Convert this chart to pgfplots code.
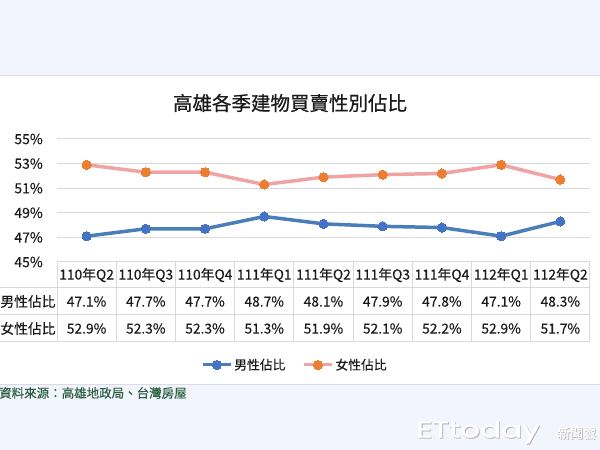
\documentclass[border=0pt]{standalone}
\usepackage{pgfplots}
\pgfplotsset{compat=1.18}
\usepackage{fontspec}
\setmainfont{Noto Sans CJK TC}[FakeBold=0.25]
\newfontfamily\titlefont[FakeBold=0.6]{Noto Sans CJK TC}
\newfontfamily\wmfont[FakeBold=1.5]{Poppins}
\newfontfamily\wmcjk[FakeBold=1]{Noto Sans CJK TC}
\definecolor{bandbg}{HTML}{F2F5FD}
\definecolor{bandline}{HTML}{D9DCE2}
\definecolor{gridc}{HTML}{D9D9D9}
\definecolor{maleline}{HTML}{4A7EBB}
\definecolor{malemark}{HTML}{4472C4}
\definecolor{femline}{HTML}{F0A3A3}
\definecolor{femmark}{HTML}{ED7D31}
\definecolor{srcc}{HTML}{2B5E3E}
\definecolor{txt}{HTML}{1A1A1A}
\begin{document}
\begin{tikzpicture}[x=1pt,y=1pt]
\path[use as bounding box] (0,0) rectangle (600,450);
\fill[white] (0,0) rectangle (600,450);
\fill[bandbg] (0,375) rectangle (600,450);
\draw[bandline, line width=1.2pt] (0,374.6) -- (600,374.6);
\fill[bandbg] (0,0) rectangle (600,65);
\draw[bandline, line width=0.8pt] (0,65.2) -- (600,65.2);
% title
\node[font=\titlefont\fontsize{19.5}{22}\selectfont, text=txt] at (290,347) {高雄各季建物買賣性別佔比};
% table grid
\begin{scope}[gridc, line width=1pt]
\draw (0,162) -- (590,162);
\draw (0,135) -- (590,135);
\draw (0,108) -- (590,108);
\foreach \i in {0,...,9} { \draw ({57+59.22*\i},188) -- ({57+59.22*\i},108); }
\end{scope}
\begin{axis}[
  at={(57pt,188pt)}, anchor=south west,
  scale only axis, width=533pt, height=123pt,
  xmin=-0.5, xmax=8.5, ymin=45, ymax=55,
  ytick={45,47,...,55},
  yticklabel={\pgfmathprintnumber{\tick}\%},
  /pgf/number format/assume math mode=true,
  yticklabel style={font=\fontsize{14}{16}\selectfont, text=txt, inner sep=0pt, anchor=east},
  yticklabel shift=14pt,
  xtick={0,...,8},
  xticklabels={110年Q2,110年Q3,110年Q4,111年Q1,111年Q2,111年Q3,111年Q4,112年Q1,112年Q2},
  xticklabel style={font=\fontsize{13.8}{16}\selectfont, text=txt, inner sep=0pt, anchor=center, yshift=-13pt},
  xticklabel shift=0pt,
  ymajorgrids, major grid style={gridc, line width=1pt},
  axis line style={draw=none}, tick style={draw=none},
  clip=false,
  legend style={at={(axis description cs:0.4465,-0.837)}, anchor=center, draw=none, fill=none,
     legend columns=2, font=\fontsize{12.8}{15}\selectfont, text=txt,
     /tikz/every even column/.append style={column sep=15pt}},
  legend image code/.code={\draw[mark repeat=2,mark phase=2,#1, line width=3pt] plot coordinates {(0pt,0pt) (14pt,0pt) (28pt,0pt)};},
]
\addplot[maleline, line width=3.5pt, mark=*, mark size=4.6pt, mark options={fill=malemark, draw=malemark, line width=0pt}]
  coordinates {(0,47.1) (1,47.7) (2,47.7) (3,48.7) (4,48.1) (5,47.9) (6,47.8) (7,47.1) (8,48.3)};
\addlegendentry{男性佔比}
\addplot[femline, line width=3.5pt, mark=*, mark size=4.6pt, mark options={fill=femmark, draw=femmark, line width=0pt}]
  coordinates {(0,52.9) (1,52.3) (2,52.3) (3,51.3) (4,51.9) (5,52.1) (6,52.2) (7,52.9) (8,51.7)};
\addlegendentry{女性佔比}
\end{axis}
% table rows
\begin{scope}[every node/.style={font=\fontsize{13.8}{16}\selectfont, text=txt, inner sep=0pt}]
\node at (28,148.5) {男性佔比};
\node at (28,121.5) {女性佔比};
\foreach \v [count=\i from 0] in {47.1,47.7,47.7,48.7,48.1,47.9,47.8,47.1,48.3}
  { \node at ({86.6+59.22*\i},148.5) {\v\%}; }
\foreach \v [count=\i from 0] in {52.9,52.3,52.3,51.3,51.9,52.1,52.2,52.9,51.7}
  { \node at ({86.6+59.22*\i},121.5) {\v\%}; }
\end{scope}
% source
\node[anchor=west, inner sep=0pt, font=\fontsize{12.5}{15}\selectfont, text=srcc] at (-1,57) {資料來源：高雄地政局、台灣房屋};
% watermark
\node[anchor=west, inner sep=0pt, font=\wmfont\fontsize{23}{26}\selectfont, text=gray!60, xscale=1.35] at (416.9,17.1) {ETtoday};
\node[anchor=west, inner sep=0pt, font=\wmfont\fontsize{23}{26}\selectfont, text=white, xscale=1.35] at (416,18) {ETtoday};
\node[anchor=west, inner sep=0pt, font=\wmcjk\fontsize{13}{15}\selectfont, text=gray!60] at (557.7,16.3) {新聞雲};
\node[anchor=west, inner sep=0pt, font=\wmcjk\fontsize{13}{15}\selectfont, text=white] at (557,17) {新聞雲};
\end{tikzpicture}
\end{document}
